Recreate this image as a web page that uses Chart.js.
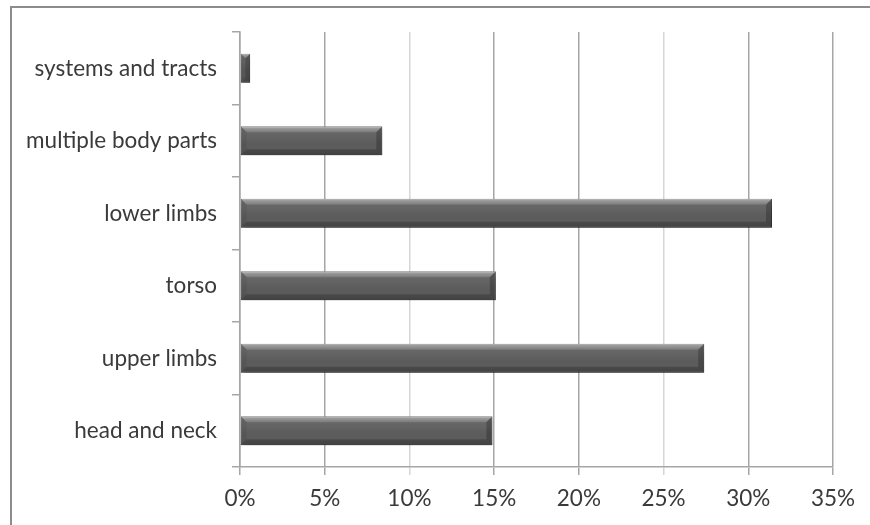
<!DOCTYPE html>
<html>
<head>
<meta charset="utf-8">
<script src="https://cdn.jsdelivr.net/npm/chart.js@4.4.1/dist/chart.umd.min.js"></script>
<style>
  html, body { margin: 0; padding: 0; background: #ffffff; }
  #wrap { position: relative; width: 870px; height: 525px; overflow: hidden; }
  #frame { position: absolute; left: 10px; top: 6px; width: 900px; height: 560px;
           border-top: 2px solid #8c8c8c; border-left: 2px solid #8c8c8c; box-sizing: border-box; }
  canvas { position: absolute; left: 0; top: 0; }
</style>
</head>
<body>
<div id="wrap">
  <div id="frame"></div>
  <canvas id="c" width="870" height="525"></canvas>
</div>
<script>
// Body region of the injury, listed bottom to top on the axis
const categories = ['systems and tracts', 'multiple body parts', 'lower limbs', 'torso', 'upper limbs', 'head and neck'];
// Share of injuries, in percent
const shares = [0.6, 8.4, 31.4, 15.1, 27.4, 14.9];
// Percent axis ticks
const tickValues = [0, 5, 10, 15, 20, 25, 30, 35];

const FONT = { family: 'Lato, "Open Sans", sans-serif', size: 22.5 };
const TEXT = '#3a3a3a';

// Soft drop shadow under the bars
const barShadow = {
  id: 'barShadow',
  beforeDatasetDraw(chart) {
    const ctx = chart.ctx;
    ctx.save();
    ctx.shadowColor = 'rgba(0,0,0,0.35)';
    ctx.shadowBlur = 5;
    ctx.shadowOffsetX = 1;
    ctx.shadowOffsetY = 3;
  },
  afterDatasetDraw(chart) {
    chart.ctx.restore();
  }
};

// Bevelled, glossy finish over each bar
const barBevel = {
  id: 'barBevel',
  afterDatasetsDraw(chart) {
    const ctx = chart.ctx;
    chart.getDatasetMeta(0).data.forEach(bar => {
      const { x, y, base, height } = bar.getProps(['x', 'y', 'base', 'height'], true);
      const left = Math.min(base, x), right = Math.max(base, x);
      const top = y - height / 2, bottom = y + height / 2;
      const w = right - left;
      const b = Math.min(6, w / 2);
      ctx.save();
      ctx.beginPath();
      ctx.rect(left, top, w, height);
      ctx.clip();
      // body shading
      const g = ctx.createLinearGradient(0, top, 0, bottom);
      g.addColorStop(0, 'rgba(255,255,255,0.10)');
      g.addColorStop(0.4, 'rgba(255,255,255,0.04)');
      g.addColorStop(0.75, 'rgba(0,0,0,0.0)');
      g.addColorStop(1, 'rgba(0,0,0,0.12)');
      ctx.fillStyle = g;
      ctx.fillRect(left, top, w, height);
      // top facet
      const gt = ctx.createLinearGradient(0, top, 0, top + b);
      gt.addColorStop(0, 'rgba(255,255,255,0.42)');
      gt.addColorStop(1, 'rgba(255,255,255,0.12)');
      ctx.fillStyle = gt;
      ctx.beginPath();
      ctx.moveTo(left, top); ctx.lineTo(right, top); ctx.lineTo(right - b, top + b); ctx.lineTo(left + b, top + b);
      ctx.closePath(); ctx.fill();
      // bottom facet
      ctx.fillStyle = 'rgba(0,0,0,0.18)';
      ctx.beginPath();
      ctx.moveTo(left, bottom); ctx.lineTo(right, bottom); ctx.lineTo(right - b, bottom - b); ctx.lineTo(left + b, bottom - b);
      ctx.closePath(); ctx.fill();
      // left facet
      ctx.fillStyle = 'rgba(0,0,0,0.06)';
      ctx.beginPath();
      ctx.moveTo(left, top); ctx.lineTo(left + b, top + b); ctx.lineTo(left + b, bottom - b); ctx.lineTo(left, bottom);
      ctx.closePath(); ctx.fill();
      // right facet
      ctx.fillStyle = 'rgba(0,0,0,0.22)';
      ctx.beginPath();
      ctx.moveTo(right, top); ctx.lineTo(right - b, top + b); ctx.lineTo(right - b, bottom - b); ctx.lineTo(right, bottom);
      ctx.closePath(); ctx.fill();
      ctx.restore();
    });
  }
};

new Chart(document.getElementById('c'), {
  type: 'bar',
  data: {
    labels: categories,
    datasets: [{
      data: shares,
      backgroundColor: '#5c5c5c',
      borderColor: '#4d4d4d',
      borderWidth: 1,
      borderSkipped: false,
      barPercentage: 0.8,
      categoryPercentage: 0.5
    }]
  },
  options: {
    indexAxis: 'y',
    responsive: false,
    animation: false,
    devicePixelRatio: 1,
    layout: { padding: { top: 32, right: 37, left: 0, bottom: 0 } },
    plugins: { legend: { display: false }, tooltip: { enabled: false } },
    scales: {
      x: {
        min: 0,
        max: 35,
        afterBuildTicks(scale) { scale.ticks = tickValues.map(v => ({ value: v })); },
        afterFit(scale) { scale.height = 58; },
        ticks: {
          font: FONT,
          color: TEXT,
          padding: 10,
          maxRotation: 0,
          callback: v => v + '%'
        },
        grid: {
          color: ctx => (ctx.index === 2 || ctx.index === 5) ? '#d6d6d6' : '#a6a6a6',
          lineWidth: 1.5,
          tickLength: 8
        },
        border: { color: '#a6a6a6', width: 1.5 }
      },
      y: {
        afterFit(scale) { scale.width = 240; },
        ticks: { font: FONT, color: TEXT, padding: 15 },
        grid: {
          drawOnChartArea: false,
          color: '#a6a6a6',
          lineWidth: 1.5,
          tickLength: 8,
          offset: true
        },
        border: { color: '#a6a6a6', width: 1.5 }
      }
    }
  },
  plugins: [barShadow, barBevel]
});
</script>
</body>
</html>
